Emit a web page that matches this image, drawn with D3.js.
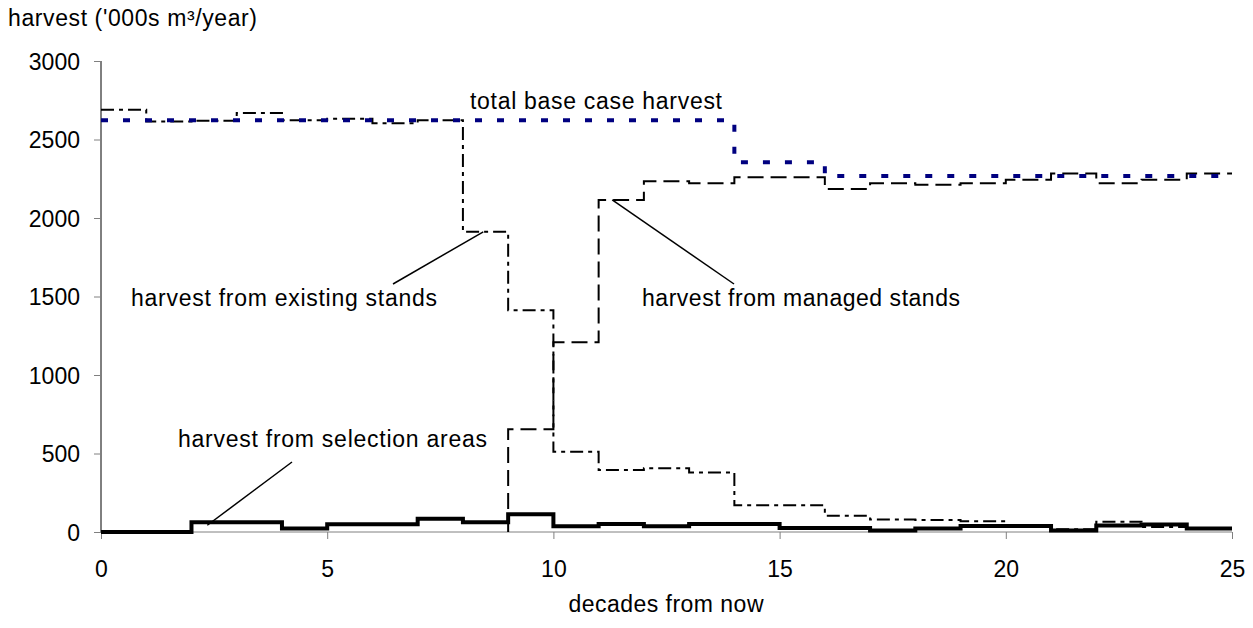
<!DOCTYPE html>
<html><head><meta charset="utf-8">
<script src="https://cdn.jsdelivr.net/npm/d3@7"></script>
<style>
body{margin:0;background:#fff}
svg text{font-family:"Liberation Sans",Arial,sans-serif;fill:#000}
</style>
</head><body>
<svg id="c" width="1253" height="628"></svg>
<script>
// ---- data ----
const decades = [0,1,2,3,4,5,6,7,8,9,10,11,12,13,14,15,16,17,18,19,20,21,22,23,24];
const existingStands = [2690,2615,2620,2668,2622,2632,2603,2622,1912,1412,511,395,406,379,170,170,104,79,77,68,45,17,66,32,20];
const selectionAreas = [0,0,62,62,23,49,49,85,62,113,36,51,36,51,51,25,25,10,23,38,38,10,42,48,22];
const managedDecades = [9,10,11,12,13,14,15,16,17,18,19,20,21,22,23,24];
const managedStands = [654,1208,2115,2234,2222,2260,2260,2185,2222,2212,2222,2244,2283,2222,2244,2283];
const totalDecades = [0,14,16];
const totalBaseCase = [2623,2355,2268];
const endDecade = 25;
const xTicks = [0,5,10,15,20,25];
const yTicks = [0,500,1000,1500,2000,2500,3000];
const yTitle = "harvest ('000s m\u00B3/year)";
const xTitle = "decades from now";
const labels = {
  total: "total base case harvest",
  existing: "harvest from existing stands",
  managed: "harvest from managed stands",
  selection: "harvest from selection areas"
};

// ---- chart ----
const svg = d3.select("#c");
const x = d3.scaleLinear().domain([0, 25]).range([101, 1232]);
const y = d3.scaleLinear().domain([0, 3000]).range([532, 61]);
const FS = 23;

function pts(ds, vs, startZero) {
  const p = ds.map((d, i) => [d, vs[i]]);
  p.push([endDecade, vs[vs.length - 1]]);
  if (startZero) p.unshift([ds[0], 0]);
  return p;
}
const line = d3.line().x(d => x(d[0])).y(d => y(d[1])).curve(d3.curveStepAfter);

// axes
const yAxis = svg.append("g").attr("transform", "translate(101,0)")
  .call(d3.axisLeft(y).tickValues(yTicks).tickSize(7).tickPadding(14).tickFormat(d3.format("d")));
yAxis.select(".domain").attr("stroke", "#000").attr("d", "M0," + y(3000) + "V" + y(0));
yAxis.selectAll(".tick line").attr("stroke", "#808080");
yAxis.selectAll(".tick text").attr("font-size", FS).attr("dy", "0.35em")
  .style("font-family", '"Liberation Sans",Arial,sans-serif');

const xAxis = svg.append("g").attr("transform", "translate(0,532)")
  .call(d3.axisBottom(x).tickValues(xTicks).tickSize(7).tickFormat(d3.format("d")));
xAxis.select(".domain").attr("stroke", "#808080").attr("d", "M" + x(0) + ",0H" + x(25));
xAxis.selectAll(".tick line").attr("stroke", "#808080");
xAxis.selectAll(".tick text").attr("font-size", FS).attr("y", 45).attr("dy", 0)
  .style("font-family", '"Liberation Sans",Arial,sans-serif');

// series
svg.append("path").attr("d", line(pts(decades, selectionAreas)))
  .attr("fill", "none").attr("stroke", "#000").attr("stroke-width", 4);
svg.append("path").attr("d", line(pts(managedDecades, managedStands, true)))
  .attr("fill", "none").attr("stroke", "#000").attr("stroke-width", 2)
  .attr("stroke-dasharray", "16,7");
svg.append("path").attr("d", line(pts(decades, existingStands)))
  .attr("fill", "none").attr("stroke", "#000").attr("stroke-width", 2)
  .attr("stroke-dasharray", "13,5,4,5");
svg.append("path").attr("d", line(pts(totalDecades, totalBaseCase)))
  .attr("fill", "none").attr("stroke", "#000080").attr("stroke-width", 4)
  .attr("stroke-dasharray", "7,15");

// titles
svg.append("text").attr("x", 8).attr("y", 26).attr("font-size", FS)
  .attr("textLength", 249).text(yTitle);
svg.append("text").attr("x", 666).attr("y", 612).attr("font-size", FS)
  .attr("text-anchor", "middle").attr("textLength", 195).text(xTitle);

// annotations
function ann(txt, x0, base, len) {
  svg.append("text").attr("x", x0).attr("y", base).attr("font-size", FS)
    .attr("textLength", len).text(txt);
}
ann(labels.total, 470, 109, 252);
ann(labels.existing, 131, 306, 306);
ann(labels.managed, 642, 306, 318);
ann(labels.selection, 178, 447, 309);

// leader lines (anchored to data positions)
function leader(x1, y1, x2, y2) {
  svg.append("line").attr("x1", x1).attr("y1", y1).attr("x2", x2).attr("y2", y2)
    .attr("stroke", "#000").attr("stroke-width", 1.5);
}
leader(393, 284, x(8.45), y(existingStands[8]));
leader(734, 284, x(11.3), y(managedStands[2]));
leader(292, 462, x(2.35), y(selectionAreas[2]) + 3);
</script>
</body></html>
